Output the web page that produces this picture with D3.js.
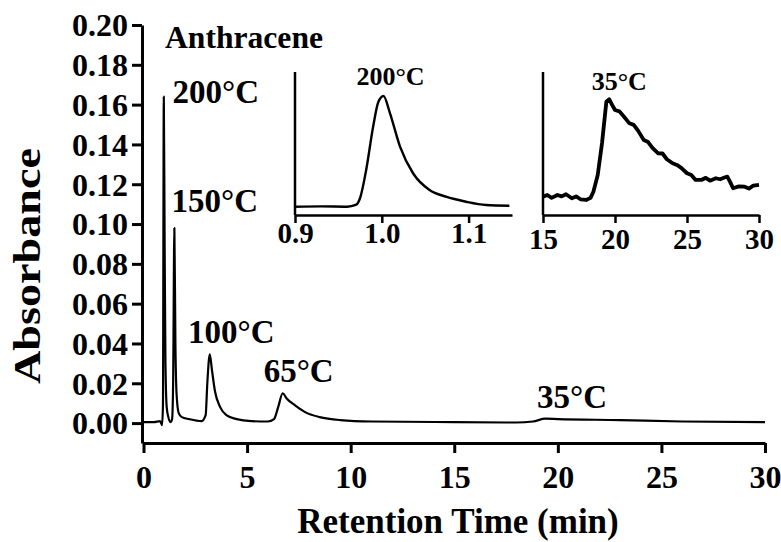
<!DOCTYPE html>
<html>
<head>
<meta charset="utf-8">
<script src="https://cdn.jsdelivr.net/npm/d3@7"></script>
<style>
  body { margin: 0; background: #fff; }
  text { font-family: "Liberation Serif", "Times New Roman", serif; font-weight: bold; fill: #000; }
  .axis path, .axis line { stroke: #000; }
</style>
</head>
<body>
<div id="chart"></div>
<script>
// main chromatogram: retention time (min), absorbance
var mainTime = [0, 0.5, 0.8, 0.9, 0.94, 0.98, 1.02, 1.06, 1.12, 1.2, 1.3, 1.38, 1.43, 1.49, 1.54, 1.6, 1.7, 1.85, 2.2, 2.8, 3.0, 3.08, 3.2, 3.3, 3.45, 3.7, 4.0, 4.5, 5.2, 6.0, 6.3, 6.5, 6.72, 6.9, 7.3, 7.8, 8.5, 9.5, 11, 15, 18, 18.8, 19.4, 20, 23, 26, 30];
var mainAbs  = [0.0005, 0.0005, 0.001, -0.001, 0.01, 0.164, 0.09, 0.03, 0.008, 0.003, 0.0005, 0.002, 0.02, 0.098, 0.04, 0.014, 0.005, 0.003, 0.002, 0.001, 0.004, 0.02, 0.0345, 0.027, 0.016, 0.008, 0.004, 0.002, 0.001, 0.0008, 0.002, 0.008, 0.015, 0.0125, 0.009, 0.0055, 0.003, 0.0015, 0.0008, 0.0005, 0.0003, 0.0008, 0.0022, 0.002, 0.0015, 0.0008, 0.0005];
var mainTicksX = [0, 5, 10, 15, 20, 25, 30];
var mainTicksY = [0, 0.02, 0.04, 0.06, 0.08, 0.10, 0.12, 0.14, 0.16, 0.18, 0.20];

// inset 1: 200 C peak (relative units)
var in1Time = [0.9, 0.93, 0.96, 0.97, 0.975, 0.982, 0.99, 0.996, 1.002, 1.009, 1.021, 1.036, 1.055, 1.074, 1.097, 1.12, 1.147];
var in1Abs  = [0.058, 0.06, 0.058, 0.07, 0.119, 0.315, 0.617, 0.79, 0.832, 0.72, 0.478, 0.292, 0.175, 0.128, 0.093, 0.07, 0.065];
var in1Ticks = [0.9, 1.0, 1.1];

// inset 2: 35 C peak (relative units), noisy trace
var in2Time = [15, 15.3, 15.6, 16, 16.3, 16.6, 17, 17.3, 17.6, 18, 18.3, 18.5, 18.8, 19.1, 19.4, 19.6, 19.8, 20, 20.3, 20.6, 21, 21.3, 21.6, 22, 22.3, 22.6, 23, 23.3, 23.6, 24, 24.3, 24.6, 25, 25.3, 25.6, 26, 26.3, 26.6, 27, 27.3, 27.6, 27.8, 28.0, 28.2, 28.6, 29, 29.3, 29.6, 30];
var in2Abs  = [0.128, 0.14, 0.12, 0.14, 0.13, 0.145, 0.117, 0.13, 0.11, 0.105, 0.12, 0.163, 0.28, 0.503, 0.792, 0.809, 0.77, 0.734, 0.725, 0.69, 0.641, 0.63, 0.59, 0.524, 0.51, 0.47, 0.431, 0.43, 0.39, 0.362, 0.35, 0.33, 0.292, 0.28, 0.245, 0.245, 0.26, 0.24, 0.257, 0.25, 0.262, 0.268, 0.23, 0.187, 0.2, 0.198, 0.185, 0.205, 0.21];
var in2Ticks = [15, 20, 25, 30];

var peakLabels = ["200°C", "150°C", "100°C", "65°C", "35°C"];
var peakLabelTime = [1.4, 1.35, 2.15, 5.8, 19.0];
var peakLabelAbs  = [0.161, 0.106, 0.040, 0.0205, 0.0075];

var width = 781, height = 542;

var svg = d3.select("#chart").append("svg")
  .attr("width", width)
  .attr("height", height);

var x = d3.scaleLinear().domain([0, 30]).range([143.5, 765]);
var y = d3.scaleLinear().domain([-0.01, 0.20]).range([443, 25]);

// main axes
var xAxis = svg.append("g").attr("class", "axis")
  .attr("transform", "translate(0,443)")
  .call(d3.axisBottom(x).tickValues(mainTicksX).tickSize(10).tickSizeOuter(0).tickFormat(d3.format("d")));
xAxis.select(".domain").attr("stroke-width", 3);
xAxis.selectAll(".tick line").attr("stroke-width", 3);
xAxis.selectAll("text").attr("font-size", 32).attr("dy", 0).attr("y", 45);

var yAxis = svg.append("g").attr("class", "axis")
  .attr("transform", "translate(142,0)")
  .call(d3.axisLeft(y).tickValues(mainTicksY).tickSize(10).tickSizeOuter(0).tickFormat(d3.format(".2f")));
yAxis.select(".domain").attr("stroke-width", 3);
yAxis.selectAll(".tick line").attr("stroke-width", 3);
yAxis.selectAll("text").attr("font-size", 32).attr("x", -14).attr("dy", "0.34em");

var line = d3.line()
  .x(function(d, i) { return x(mainTime[i]); })
  .y(function(d) { return y(d); })
  .curve(d3.curveMonotoneX);

svg.append("path")
  .datum(mainAbs)
  .attr("d", line)
  .attr("fill", "none")
  .attr("stroke", "#000")
  .attr("stroke-width", 2.2)
  .attr("stroke-linejoin", "round");

svg.selectAll(".peakLabel")
  .data(peakLabels)
  .enter()
  .append("text")
  .attr("class", "peakLabel")
  .attr("x", function(d, i) { return x(peakLabelTime[i]); })
  .attr("y", function(d, i) { return y(peakLabelAbs[i]); })
  .attr("font-size", 33)
  .text(function(d) { return d; });

svg.append("text")
  .attr("x", 165).attr("y", 48)
  .attr("font-size", 31)
  .attr("textLength", 158)
  .attr("lengthAdjust", "spacingAndGlyphs")
  .text("Anthracene");

svg.append("text")
  .attr("x", 458).attr("y", 533)
  .attr("text-anchor", "middle")
  .attr("font-size", 35)
  .text("Retention Time (min)");

svg.append("text")
  .attr("transform", "translate(40,266) rotate(-90)")
  .attr("text-anchor", "middle")
  .attr("font-size", 37)
  .attr("textLength", 236)
  .attr("lengthAdjust", "spacingAndGlyphs")
  .text("Absorbance");

// insets
function inset(times, vals, ticks, dom, x0, x1, fmt, lineW, curve, label, labelT, labelV, tickY) {
  var ix = d3.scaleLinear().domain(dom).range([x0, x1]);
  var iy = d3.scaleLinear().domain([0, 1]).range([215, 72]);
  var g = svg.append("g");
  var ax = g.append("g").attr("class", "axis")
    .attr("transform", "translate(0,215)")
    .call(d3.axisBottom(ix).tickValues(ticks).tickSize(8).tickSizeOuter(0).tickFormat(d3.format(fmt)));
  ax.select(".domain").attr("stroke-width", 2.5);
  ax.selectAll(".tick line").attr("stroke-width", 2.5);
  ax.selectAll("text").attr("font-size", 29).attr("dy", 0).attr("y", tickY);
  g.append("line")
    .attr("x1", x0).attr("x2", x0)
    .attr("y1", 72).attr("y2", 215)
    .attr("stroke", "#000").attr("stroke-width", 2.5);
  g.append("path")
    .datum(vals)
    .attr("d", d3.line().x(function(d, i) { return ix(times[i]); }).y(function(d) { return iy(d); }).curve(curve))
    .attr("fill", "none")
    .attr("stroke", "#000")
    .attr("stroke-width", lineW)
    .attr("stroke-linejoin", "round");
  g.append("text")
    .attr("x", ix(labelT)).attr("y", iy(labelV))
    .attr("text-anchor", "middle")
    .attr("font-size", 26)
    .text(label);
}

inset(in1Time, in1Abs, in1Ticks, [0.9, 1.15], 295, 512, ".1f", 2.4, d3.curveMonotoneX, "200°C", 1.01, 0.91, 28);
inset(in2Time, in2Abs, in2Ticks, [15, 30], 543, 759, "d", 3.8, d3.curveLinear, "35°C", 20.3, 0.875, 34);
</script>
</body>
</html>
